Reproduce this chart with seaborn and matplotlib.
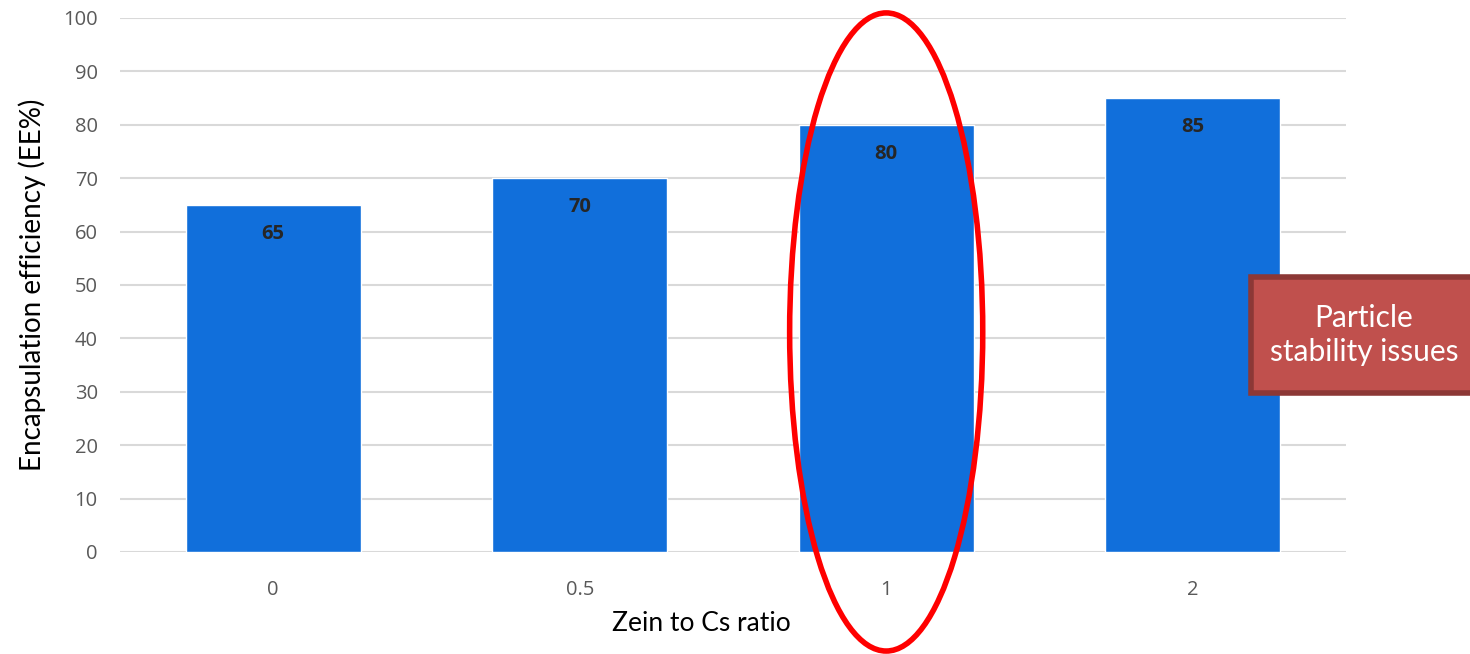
import matplotlib
matplotlib.use("Agg")
import matplotlib.pyplot as plt
import seaborn as sns
import pandas as pd
from matplotlib.patches import Ellipse, Rectangle

ratios = ["0", "0.5", "1", "2"]
efficiency = [65, 70, 80, 85]
y_ticks = [0, 10, 20, 30, 40, 50, 60, 70, 80, 90, 100]

df = pd.DataFrame({"ratio": ratios, "ee": efficiency})

sns.set_theme(style="white")
plt.rcParams["font.family"] = ["Open Sans", "DejaVu Sans"]

fig = plt.figure(figsize=(14.7, 6.54), dpi=100)
ax = fig.add_axes([0.0816, 0.156, 0.834, 0.8165])

sns.barplot(data=df, x="ratio", y="ee", order=ratios, color="#116FDB",
            saturation=1, width=0.57, ax=ax, zorder=3)

ax.set_ylim(0, 100)
ax.set_xlim(-0.5, len(ratios) - 0.5)
ax.set_yticks(y_ticks)
ax.yaxis.grid(True, color="#D9D9D9", linewidth=1.5, zorder=0)
ax.set_axisbelow(True)
for s in ax.spines.values():
    s.set_visible(False)
ax.tick_params(axis="both", length=0, colors="#595959", labelsize=14.5)
ax.tick_params(axis="y", pad=16)
ax.tick_params(axis="x", pad=20)

ax.set_ylabel("Encapsulation efficiency (EE%)", family=["Lato", "DejaVu Sans"],
              fontsize=20, color="black", labelpad=12)
ax.set_xlabel("Zein to Cs ratio", family=["Lato", "DejaVu Sans"],
              fontsize=19, color="black", labelpad=12)
ax.xaxis.set_label_coords((701 - 120) / 1226, -0.11)

for i, v in enumerate(efficiency):
    ax.text(i, v - 5.4, f"{v}", ha="center", va="center", fontsize=14.5,
            fontweight="bold", color="#262626", zorder=5)

# highlight the 1:1 ratio
ell = Ellipse((2, 41.2), width=0.63, height=119.5, transform=ax.transData,
              fill=False, edgecolor="#FF0000", linewidth=4, clip_on=False, zorder=6)
ax.add_patch(ell)

# callout box
box = Rectangle((1251 / 1470, 1 - 393 / 654), 0.16, 116 / 654,
                transform=fig.transFigure, facecolor="#C0504D",
                edgecolor="#8C3836", linewidth=4, clip_on=False, zorder=7)
fig.patches.append(box)
fig.text(1364 / 1470, 1 - 335 / 654, "Particle\nstability issues", ha="center",
         va="center", color="white", fontsize=21.5, linespacing=1.3,
         family=["Lato", "DejaVu Sans"], zorder=8)

fig.savefig("out.png", dpi=100)
